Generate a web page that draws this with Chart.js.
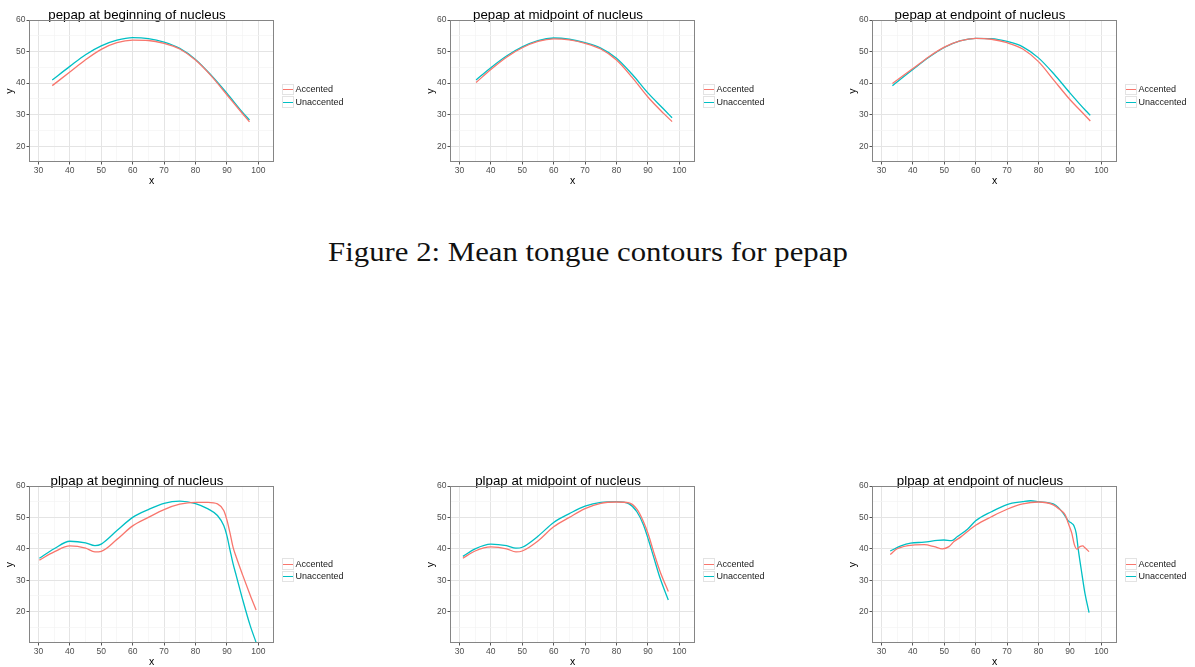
<!DOCTYPE html>
<html lang="en">
<head>
<meta charset="UTF-8">
<title>Mean tongue contours</title>
<script src="https://cdn.jsdelivr.net/npm/chart.js"></script>
<style>
  html, body { margin: 0; padding: 0; background: #fff; overflow: hidden; }
  body { width: 1195px; height: 667px; position: relative; font-family: "Liberation Sans", Arial, sans-serif; }
  canvas.panel { position: absolute; }
  .legend { position: absolute; font-size: 9px; color: #1a1a1a; }
  .legend .row { display: flex; align-items: center; height: 12.5px; }
  .key { width: 12px; height: 11.5px; border: 1px solid #e3e3e3; position: relative; margin-right: 1.5px; box-sizing: border-box; }
  .key span { position: absolute; left: 0; right: 0; top: 4.5px; height: 1.4px; }
  .caption { position: absolute; top: 239px; left: 0; width: 1175px; text-align: center; font-family: "Liberation Serif", serif; font-size: 27px; line-height: 27px; color: #111; }
  .caption span { display: inline-block; transform: scaleX(1.14); }
</style>
</head>
<body>
<div class="caption"><span>Figure 2: Mean tongue contours for pepap</span></div>
<script>
// series names and colours
const seriesNames = ['Accented', 'Unaccented'];
const seriesColors = ['#F8766D', '#00BFC4'];

// axis breaks
const xBreaks = [30, 40, 50, 60, 70, 80, 90, 100];
const xMinorBreaks = [35, 45, 55, 65, 75, 85, 95];
const yBreaks = [20, 30, 40, 50, 60];
const yMinorBreaksTop = [25, 35, 45, 55];
const yMinorBreaksBottom = [15, 25, 35, 45, 55];

// pepap at beginning of nucleus
const pepapBegX = [34.4, 40, 45, 50, 55, 60, 65, 70, 75, 80, 85, 90, 95, 97.2];
const pepapBegAcc = [39.2, 43.5, 47.4, 50.7, 52.8, 53.6, 53.5, 52.6, 50.8, 47.3, 42.3, 36.3, 30.3, 27.7];
const pepapBegUna = [41.0, 45.3, 49.0, 51.8, 53.6, 54.4, 54.1, 53.0, 51.0, 47.5, 42.5, 36.8, 30.7, 28.3];

// pepap at midpoint of nucleus
const pepapMidX = [35.3, 40, 45, 50, 55, 60, 65, 70, 75, 80, 85, 90, 95, 97.7];
const pepapMidAcc = [40.2, 44.3, 48.2, 51.2, 53.2, 54.0, 53.7, 52.6, 50.8, 47.3, 41.8, 35.6, 30.4, 27.8];
const pepapMidUna = [41.0, 44.9, 48.6, 51.5, 53.5, 54.3, 53.9, 52.8, 51.1, 47.9, 42.8, 36.9, 31.8, 29.0];

// pepap at endpoint of nucleus
const pepapEndX = [33.5, 40, 45, 50, 55, 60, 65, 70, 75, 80, 85, 90, 95, 96.5];
const pepapEndAcc = [39.9, 44.6, 48.3, 51.4, 53.4, 54.2, 53.9, 52.8, 50.8, 46.8, 40.8, 34.8, 29.6, 28.0];
const pepapEndUna = [39.2, 44.3, 48.1, 51.3, 53.4, 54.2, 54.1, 53.2, 51.5, 48.0, 42.8, 36.9, 31.3, 29.8];

// plpap at beginning of nucleus
const plpapBegX = [30.3, 35, 40, 45, 48, 50, 55, 60, 65, 70, 75, 80, 84, 87, 89, 90, 91, 92, 93, 95, 97.4, 99.3];
const plpapBegAcc = [36.4, 39.0, 40.9, 40.2, 39.0, 39.2, 43.0, 47.3, 50.0, 52.5, 54.2, 54.8, 54.8, 54.3, 52.2, 49.2, 45.0, 40.4, 37.3, 31.7, 25.3, 20.5];
const plpapBegUna = [37.0, 40.0, 42.4, 41.9, 41.0, 41.5, 45.8, 50.0, 52.5, 54.5, 55.2, 54.4, 52.7, 50.6, 47.4, 44.2, 39.6, 35.1, 31.4, 23.9, 15.6, 10.2];

// plpap at midpoint of nucleus
const plpapMidX = [31.1, 35, 40, 45, 48, 50, 55, 60, 65, 70, 75, 80, 84, 86.5, 88.6, 90.2, 91.8, 93.9, 96.5];
const plpapMidAcc = [37.0, 39.3, 40.6, 40.0, 39.0, 39.3, 42.5, 47.0, 50.0, 52.8, 54.5, 54.9, 54.6, 52.6, 48.6, 44.4, 39.1, 32.7, 26.4];
const plpapMidUna = [37.6, 40.0, 41.5, 41.0, 40.2, 40.5, 44.0, 48.4, 51.2, 53.6, 54.8, 55.0, 54.3, 51.8, 47.6, 42.8, 37.5, 30.6, 23.7];

// plpap at endpoint of nucleus (series sampled at different x)
const plpapEndAccX = [32.8, 35, 40, 43.6, 46.8, 49.4, 51.5, 53.1, 55.3, 58, 60, 65, 70, 75, 80, 84.7, 86.9, 88.5, 89.5, 90.6, 91.4, 92.2, 93.2, 94.1, 94.8, 96.1];
const plpapEndAcc = [38.2, 40.0, 41.2, 41.3, 40.7, 40.0, 40.7, 42.3, 43.8, 46.0, 47.5, 50.2, 52.6, 54.3, 54.9, 54.0, 52.4, 50.8, 48.1, 45.0, 41.4, 39.9, 40.7, 40.9, 40.3, 39.1];
const plpapEndUnaX = [32.8, 36.2, 39.3, 43.6, 47.8, 49.9, 52.3, 54.2, 57.4, 60, 65, 70, 75, 77.5, 80, 84.7, 86.3, 87.9, 89.5, 90.6, 91.3, 92.0, 92.7, 93.8, 94.8, 96.1];
const plpapEndUna = [39.3, 40.9, 41.8, 42.1, 42.7, 42.8, 42.6, 43.9, 46.2, 48.9, 51.8, 54.1, 55.0, 55.3, 55.0, 54.3, 53.2, 51.3, 48.9, 48.1, 47.3, 45.0, 39.6, 32.2, 25.8, 19.7];

// panel layout: plot area left/top/width/height in page pixels
const panels = [
  { title: 'pepap at beginning of nucleus', left: 29, top: 20, w: 245, h: 142, ymin: 15,
    xs: [pepapBegX, pepapBegX], ys: [pepapBegAcc, pepapBegUna], legendTop: 83 },
  { title: 'pepap at midpoint of nucleus', left: 450, top: 20, w: 245, h: 142, ymin: 15,
    xs: [pepapMidX, pepapMidX], ys: [pepapMidAcc, pepapMidUna], legendTop: 83 },
  { title: 'pepap at endpoint of nucleus', left: 872, top: 20, w: 245, h: 142, ymin: 15,
    xs: [pepapEndX, pepapEndX], ys: [pepapEndAcc, pepapEndUna], legendTop: 83 },
  { title: 'plpap at beginning of nucleus', left: 29, top: 486, w: 245, h: 157, ymin: 10,
    xs: [plpapBegX, plpapBegX], ys: [plpapBegAcc, plpapBegUna], legendTop: 557.5 },
  { title: 'plpap at midpoint of nucleus', left: 450, top: 486, w: 245, h: 157, ymin: 10,
    xs: [plpapMidX, plpapMidX], ys: [plpapMidAcc, plpapMidUna], legendTop: 557.5 },
  { title: 'plpap at endpoint of nucleus', left: 872, top: 486, w: 245, h: 157, ymin: 10,
    xs: [plpapEndAccX, plpapEndUnaX], ys: [plpapEndAcc, plpapEndUna], legendTop: 557.5 }
];

const AXIS_W = 29, TITLE_H = 20, XAXIS_H = 28;
const FONT = "'Liberation Sans', Arial, sans-serif";

// grey frame around the panel, drawn over the lines like ggplot's panel.border
const panelBorder = {
  id: 'panelBorder',
  afterDatasetsDraw(chart) {
    const a = chart.chartArea, ctx = chart.ctx;
    ctx.save();
    ctx.strokeStyle = '#858585';
    ctx.lineWidth = 1;
    ctx.strokeRect(Math.round(a.left) + 0.5, Math.round(a.top) + 0.5,
                   Math.round(a.right - a.left) - 1, Math.round(a.bottom - a.top) - 1);
    ctx.restore();
  }
};

function sorted(a, b) { return a.concat(b).sort((p, q) => p - q); }
const isMajor = (v, majors) => majors.includes(v);

panels.forEach(p => {
  const cv = document.createElement('canvas');
  cv.className = 'panel';
  const cw = AXIS_W * 2 + p.w, ch = TITLE_H + p.h + XAXIS_H;
  cv.width = cw; cv.height = ch;
  cv.style.left = (p.left - AXIS_W) + 'px';
  cv.style.top = (p.top - TITLE_H) + 'px';
  document.body.appendChild(cv);

  const xTicks = sorted(xBreaks, xMinorBreaks);
  const yTicks = sorted(yBreaks, p.ymin === 10 ? yMinorBreaksBottom : yMinorBreaksTop);

  const datasets = seriesNames.map((name, i) => ({
    label: name,
    data: p.xs[i].map((x, k) => ({ x: x, y: p.ys[i][k] })),
    showLine: true,
    borderColor: seriesColors[i],
    backgroundColor: seriesColors[i],
    borderWidth: 1.3,
    pointRadius: 0,
    cubicInterpolationMode: 'monotone',
    fill: false
  }));

  new Chart(cv, {
    type: 'scatter',
    data: { datasets },
    options: {
      responsive: false,
      animation: false,
      layout: { padding: { left: 0, right: AXIS_W, top: 0, bottom: 0 } },
      plugins: {
        legend: { display: false },
        tooltip: { enabled: false },
        title: {
          display: true, text: p.title, color: '#000',
          font: { family: FONT, size: 13.3, weight: 'normal', lineHeight: 1 },
          padding: { top: 8.7, bottom: -2 }
        }
      },
      scales: {
        x: {
          type: 'linear', min: 27, max: 105,
          afterBuildTicks: s => { s.ticks = xTicks.map(v => ({ value: v })); },
          afterFit: s => { s.height = XAXIS_H; },
          ticks: {
            autoSkip: false, maxRotation: 0, padding: 1,
            color: '#4d4d4d', font: { family: FONT, size: 8.5 },
            callback: v => isMajor(v, xBreaks) ? v : ''
          },
          grid: {
            color: c => isMajor(c.tick.value, xBreaks) ? '#e4e4e4' : '#f3f3f3',
            lineWidth: c => isMajor(c.tick.value, xBreaks) ? 1 : 0.7,
            tickLength: 2.5,
            tickColor: c => isMajor(c.tick.value, xBreaks) ? '#555' : 'rgba(0,0,0,0)'
          },
          border: { display: false },
          title: { display: true, text: 'x', color: '#000', font: { family: FONT, size: 10.5 }, padding: { top: 0, bottom: 3 } }
        },
        y: {
          type: 'linear', min: p.ymin, max: 60,
          afterBuildTicks: s => { s.ticks = yTicks.map(v => ({ value: v })); },
          afterFit: s => { s.width = AXIS_W; },
          ticks: {
            autoSkip: false, padding: 1,
            color: '#4d4d4d', font: { family: FONT, size: 8.5 },
            callback: v => isMajor(v, yBreaks) ? v : ''
          },
          grid: {
            color: c => isMajor(c.tick.value, yBreaks) ? '#e4e4e4' : '#f3f3f3',
            lineWidth: c => isMajor(c.tick.value, yBreaks) ? 1 : 0.7,
            tickLength: 2.5,
            tickColor: c => isMajor(c.tick.value, yBreaks) ? '#555' : 'rgba(0,0,0,0)'
          },
          border: { display: false },
          title: { display: true, text: 'y', color: '#000', font: { family: FONT, size: 10.5 }, padding: { top: 4, bottom: 0 } }
        }
      }
    },
    plugins: [panelBorder]
  });

  // legend to the right of the panel
  const lg = document.createElement('div');
  lg.className = 'legend';
  lg.style.left = (p.left + p.w + 8) + 'px';
  lg.style.top = p.legendTop + 'px';
  lg.innerHTML = seriesNames.map((n, i) =>
    `<div class="row"><div class="key"><span style="background:${seriesColors[i]}"></span></div>${n}</div>`
  ).join('');
  document.body.appendChild(lg);
});
</script>
</body>
</html>
